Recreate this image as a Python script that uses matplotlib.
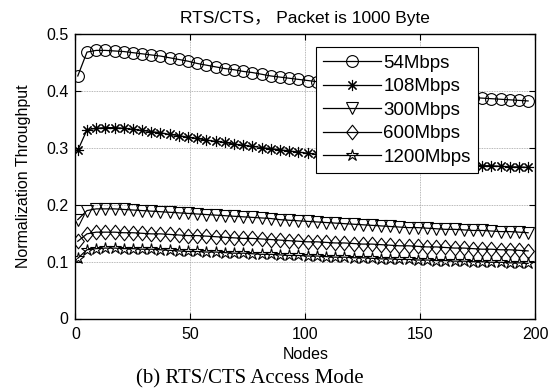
import matplotlib
matplotlib.use("Agg")
import matplotlib.pyplot as plt
from matplotlib.path import Path

# Node counts where throughput was sampled
nodes = list(range(1, 200, 4))

thr_54 = [0.427, 0.469, 0.472, 0.472, 0.471, 0.470, 0.468, 0.466, 0.464, 0.462,
          0.459, 0.456, 0.453, 0.449, 0.446, 0.443, 0.440, 0.438, 0.435, 0.433,
          0.430, 0.427, 0.425, 0.423, 0.421, 0.419, 0.417, 0.415, 0.413, 0.411,
          0.409, 0.407, 0.406, 0.404, 0.402, 0.401, 0.399, 0.398, 0.396, 0.395,
          0.393, 0.392, 0.391, 0.389, 0.388, 0.387, 0.386, 0.385, 0.384, 0.383]

thr_108 = [0.296, 0.332, 0.335, 0.336, 0.336, 0.335, 0.333, 0.331, 0.329, 0.327,
           0.324, 0.322, 0.319, 0.317, 0.314, 0.312, 0.310, 0.307, 0.305, 0.303,
           0.301, 0.299, 0.297, 0.295, 0.293, 0.291, 0.289, 0.288, 0.286, 0.285,
           0.283, 0.282, 0.281, 0.280, 0.278, 0.277, 0.276, 0.275, 0.274, 0.273,
           0.272, 0.271, 0.271, 0.270, 0.269, 0.269, 0.268, 0.267, 0.267, 0.266]

thr_300 = [0.174, 0.190, 0.193, 0.193, 0.193, 0.192, 0.191, 0.190, 0.189, 0.188,
           0.187, 0.186, 0.185, 0.184, 0.183, 0.182, 0.181, 0.180, 0.179, 0.178,
           0.177, 0.176, 0.174, 0.173, 0.172, 0.171, 0.170, 0.169, 0.168, 0.167,
           0.166, 0.165, 0.164, 0.163, 0.162, 0.161, 0.160, 0.160, 0.159, 0.158,
           0.157, 0.157, 0.156, 0.155, 0.155, 0.154, 0.153, 0.153, 0.152, 0.151]

thr_600 = [0.136, 0.149, 0.152, 0.152, 0.152, 0.151, 0.151, 0.150, 0.149, 0.149,
           0.148, 0.147, 0.146, 0.146, 0.145, 0.144, 0.143, 0.142, 0.141, 0.141,
           0.140, 0.139, 0.138, 0.137, 0.136, 0.135, 0.135, 0.134, 0.133, 0.133,
           0.132, 0.131, 0.131, 0.130, 0.129, 0.128, 0.128, 0.127, 0.126, 0.126,
           0.125, 0.124, 0.124, 0.123, 0.122, 0.122, 0.121, 0.121, 0.120, 0.119]

thr_1200 = [0.106, 0.121, 0.123, 0.124, 0.124, 0.123, 0.123, 0.122, 0.122, 0.121,
            0.120, 0.119, 0.118, 0.118, 0.117, 0.117, 0.116, 0.115, 0.115, 0.114,
            0.113, 0.113, 0.112, 0.111, 0.111, 0.110, 0.110, 0.109, 0.108, 0.108,
            0.107, 0.107, 0.106, 0.105, 0.105, 0.104, 0.104, 0.103, 0.103, 0.102,
            0.102, 0.101, 0.101, 0.100, 0.100, 0.099, 0.099, 0.098, 0.098, 0.097]

labels = ["54Mbps", "108Mbps", "300Mbps", "600Mbps", "1200Mbps"]
x_ticks = [0, 50, 100, 150, 200]
y_ticks = [0, 0.1, 0.2, 0.3, 0.4, 0.5]
y_tick_labels = ["0", "0.1", "0.2", "0.3", "0.4", "0.5"]

SANS = ["Liberation Sans", "Noto Sans CJK SC", "DejaVu Sans"]
plt.rcParams["font.family"] = SANS

# MATLAB-like diamond: a bit taller than wide
diamond = Path([(0, 1), (0.8, 0), (0, -1), (-0.8, 0), (0, 1)],
               [Path.MOVETO, Path.LINETO, Path.LINETO, Path.LINETO, Path.CLOSEPOLY])

styles = [
    dict(marker="o", markersize=8.5),
    dict(marker=(8, 2, 0), markersize=8),
    dict(marker="v", markersize=9),
    dict(marker=diamond, markersize=10.5),
    dict(marker="*", markersize=9),
]

fig = plt.figure(figsize=(5.55, 3.92), dpi=100)
ax = fig.add_axes([0.136, 0.1875, 0.828, 0.7245])

for series, label, st in zip([thr_54, thr_108, thr_300, thr_600, thr_1200], labels, styles):
    ax.plot(nodes, series, color="black", linewidth=0.9,
            markerfacecolor="none", markeredgecolor="black",
            markeredgewidth=0.8, label=label, **st)

ax.set_xlim(0, 200)
ax.set_ylim(0, 0.5)
ax.set_xticks(x_ticks)
ax.set_yticks(y_ticks)
ax.set_yticklabels(y_tick_labels)
ax.tick_params(direction="in", length=4, width=0.8, top=True, right=True,
               labelsize=11.5)
ax.tick_params(axis="x", pad=6)
ax.tick_params(axis="y", pad=5)

ax.grid(True, color="#a0a0a0", linestyle=(0, (1, 1)), linewidth=0.6)
for s in ax.spines.values():
    s.set_linewidth(1.0)
    s.set_color("black")

ax.set_title("RTS/CTS， Packet is 1000 Byte", fontsize=12.5, pad=8)
ax.set_ylabel("Normalization Throughput", fontsize=11.5)
ax.yaxis.set_label_coords(-0.097, 0.5)
ax.set_xlabel("Nodes", fontsize=11.5)
ax.xaxis.set_label_coords(0.5, -0.1)

leg = ax.legend(loc="upper left", bbox_to_anchor=(0.523, 0.956), borderaxespad=0,
                fontsize=13.5, handlelength=3.1, handletextpad=0.1,
                labelspacing=0.34, borderpad=0.4, fancybox=False,
                framealpha=1, edgecolor="black")
leg.get_frame().set_linewidth(0.8)

fig.text(0.45, 0.033, "(b) RTS/CTS Access Mode", family="Liberation Serif",
         fontsize=15, ha="center", va="center")

fig.savefig("out.png", dpi=100)
